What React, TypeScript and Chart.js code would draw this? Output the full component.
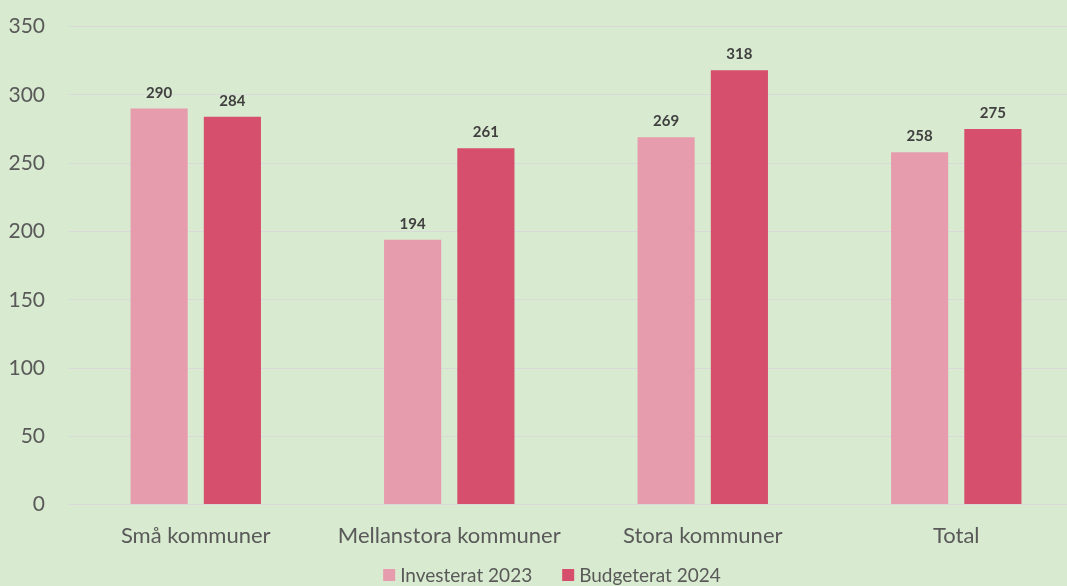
import React, { useEffect, useRef } from "react";
import { Chart, registerables } from "chart.js";

Chart.register(...registerables);

const categories = ["Små kommuner", "Mellanstora kommuner", "Stora kommuner", "Total"];
const invested2023 = [290, 194, 269, 258];
const budget2024 = [284, 261, 318, 275];
const seriesNames = ["Investerat 2023", "Budgeterat 2024"];
const seriesColors = ["#E79CAD", "#D64F6D"];

const FONT = "Lato, 'Open Sans', sans-serif";
const OFFSET_Y = 10;

const labelPlugin = {
  id: "barLabels",
  afterDatasetsDraw(chart: any) {
    const ctx = chart.ctx;
    ctx.save();
    ctx.font = `bold 15px ${FONT}`;
    ctx.fillStyle = "#404040";
    ctx.textAlign = "center";
    ctx.textBaseline = "alphabetic";
    chart.data.datasets.forEach((ds: any, i: number) => {
      const meta = chart.getDatasetMeta(i);
      meta.data.forEach((el: any, j: number) => {
        ctx.fillText(String(ds.data[j]), el.x, el.y - 11);
      });
    });
    ctx.restore();
  },
};

const bgPlugin = {
  id: "bg",
  beforeDraw(chart: any) {
    const ctx = chart.ctx;
    ctx.save();
    ctx.fillStyle = "#D8EACF";
    ctx.fillRect(0, 0, chart.width, chart.height);
    ctx.restore();
  },
};

const legendPlugin = {
  id: "bottomLegend",
  afterDraw(chart: any) {
    const ctx = chart.ctx;
    ctx.save();
    ctx.font = `19px ${FONT}`;
    ctx.textBaseline = "middle";
    ctx.textAlign = "left";
    const box = 12;
    const gap = 5;
    const between = 30;
    const items = chart.data.datasets.map((ds: any) => ({
      text: ds.label,
      color: ds.backgroundColor,
      w: box + gap + ctx.measureText(ds.label).width,
    }));
    const total = items.reduce((s: number, it: any) => s + it.w, 0) + between * (items.length - 1);
    let x = 552 - total / 2;
    const cy = 575 + OFFSET_Y;
    items.forEach((it: any) => {
      ctx.fillStyle = it.color;
      ctx.fillRect(x, cy - box / 2, box, box);
      ctx.fillStyle = "#595959";
      ctx.fillText(it.text, x + box + gap, cy + 1);
      x += it.w + between;
    });
    ctx.restore();
  },
};

export default function App() {
  const ref = useRef<HTMLCanvasElement>(null);
  useEffect(() => {
    document.body.style.margin = "0";
    const chart = new Chart(ref.current!, {
      type: "bar",
      data: {
        labels: categories,
        datasets: [
          {
            label: seriesNames[0],
            data: invested2023,
            backgroundColor: seriesColors[0],
            barPercentage: 0.78,
            categoryPercentage: 0.578,
          },
          {
            label: seriesNames[1],
            data: budget2024,
            backgroundColor: seriesColors[1],
            barPercentage: 0.78,
            categoryPercentage: 0.578,
          },
        ],
      },
      options: {
        responsive: false,
        animation: false,
        layout: { padding: { top: 9, right: 7, left: 0, bottom: 27 } },
        plugins: {
          legend: { display: false },
          tooltip: { enabled: false },
        },
        scales: {
          x: {
            grid: { display: false },
            border: { display: true, color: "#D9D9D9", width: 1 },
            ticks: { color: "#595959", font: { family: FONT, size: 22 }, padding: 10 },
          },
          y: {
            min: 0,
            max: 350,
            afterFit: (scale: any) => {
              scale.width = 69;
            },
            ticks: { stepSize: 50, color: "#595959", font: { family: FONT, size: 21 }, padding: 24 },
            grid: { color: "#D9D9D9", drawTicks: false },
            border: { display: false },
          },
        },
      },
      plugins: [bgPlugin, labelPlugin, legendPlugin],
    });
    return () => chart.destroy();
  }, []);
  return (
    <div style={{ width: 1067, height: 586, overflow: "hidden", background: "#D8EACF" }}>
      <canvas
        ref={ref}
        width={1090}
        height={586 + OFFSET_Y}
        style={{ display: "block", marginTop: -OFFSET_Y }}
      />
    </div>
  );
}
